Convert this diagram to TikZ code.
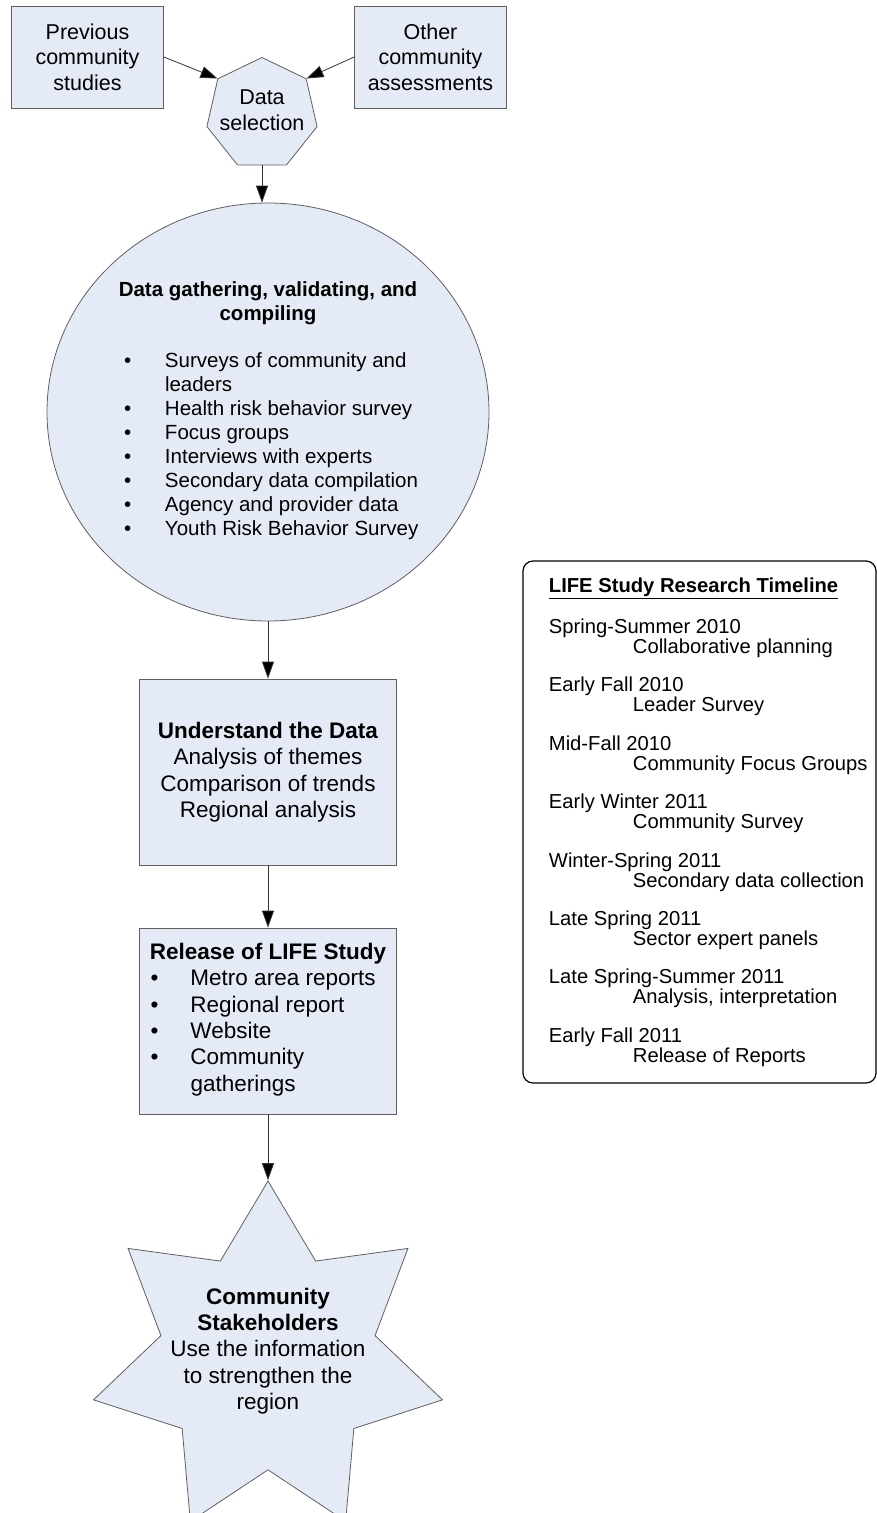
\documentclass[tikz,border=0pt]{standalone}
\usepackage{fontspec}
\setmainfont{Liberation Sans}
\usetikzlibrary{arrows.meta, positioning, shapes.geometric}
\definecolor{boxfill}{RGB}{229,235,246}
\definecolor{boxline}{RGB}{95,95,95}

\begin{document}
\begin{tikzpicture}[x=1pt,y=-1pt,on grid,>={Triangle[width=12pt,length=17pt]}]
    \tikzstyle{source}=[shape=rectangle,draw=boxline,fill=boxfill,line width=0.8pt,minimum width=152pt,minimum height=102pt,align=center,font=\fontsize{21.5}{25.5}\selectfont]
    \tikzstyle{stage}=[shape=rectangle,draw=boxline,fill=boxfill,line width=0.8pt,minimum width=257pt,minimum height=186pt,align=center,font=\fontsize{22.5}{26.4}\selectfont]
    \tikzstyle{blurb}=[align=center,font=\fontsize{22.5}{26.4}\selectfont]
    \useasboundingbox (0,0) rectangle (877,1513);

    \node[source] (Prev) at (87.5,57) {Previous\\community\\studies};
    \node[source, right=343pt of Prev] (Other) {Other\\community\\assessments};
    \node[regular polygon, regular polygon sides=7, draw=boxline, fill=boxfill, line width=0.8pt,
          minimum size=113pt, inner sep=0pt] (Sel) at (262,114) {};
    \node[align=center, font=\fontsize{21.5}{26}\selectfont, above=4pt of Sel] (SelTxt) {Data\\selection};

    \node[ellipse, draw=boxline, fill=boxfill, line width=0.8pt, minimum width=442pt, minimum height=418pt,
          inner sep=0pt, align=center, font=\fontsize{20.5}{24}\selectfont] (Gath) at (268,412) {%
      \textbf{Data gathering, validating, and}\\ \textbf{compiling}\\[23pt]
      \hspace*{9pt}\begin{tabular}[t]{@{}p{41pt}@{}p{256pt}@{}}
        \textbullet & Surveys of community and\\
                    & leaders\\
        \textbullet & Health risk behavior survey\\
        \textbullet & Focus groups\\
        \textbullet & Interviews with experts\\
        \textbullet & Secondary data compilation\\
        \textbullet & Agency and provider data\\
        \textbullet & Youth Risk Behavior Survey
      \end{tabular}};

    \node[stage, below=360pt of Gath] (Und) {\textbf{Understand the Data}\\Analysis of themes\\Comparison of trends\\Regional analysis};
    \node[stage, below=249pt of Und] (Rel) {%
      \textbf{Release of LIFE Study}\\
      \hspace*{4pt}\begin{tabular}[t]{@{}p{40pt}@{}p{199pt}@{}}
        \textbullet & Metro area reports\\
        \textbullet & Regional report\\
        \textbullet & Website\\
        \textbullet & Community\\
                    & gatherings
      \end{tabular}};

    \node[star, star points=7, star point ratio=1.63, minimum size=358pt, inner sep=0pt,
          draw=boxline, fill=boxfill, line width=0.8pt, below=339pt of Rel] (Stake) {};
    \node[blurb, above=9pt of Stake] (StakeTxt) {\textbf{Community}\\\textbf{Stakeholders}\\Use the information\\to strengthen the\\region};

    % timeline box on the right
    \node[draw, rounded corners=10pt, line width=1.2pt, minimum width=353pt, minimum height=522pt] (Time) at (699.5,822) {};
    \node[anchor=north west, align=left, font=\fontsize{20.2}{20}\selectfont] (TimeTxt) at ([xshift=23pt,yshift=-14pt]Time.north west) {%
      \underline{\textbf{LIFE Study Research Timeline}}\\[19pt]
      Spring-Summer 2010\\ \hspace*{84pt}Collaborative planning\\[18.4pt]
      Early Fall 2010\\ \hspace*{84pt}Leader Survey\\[18.4pt]
      Mid-Fall 2010\\ \hspace*{84pt}Community Focus Groups\\[18.4pt]
      Early Winter 2011\\ \hspace*{84pt}Community Survey\\[18.4pt]
      Winter-Spring 2011\\ \hspace*{84pt}Secondary data collection\\[18.4pt]
      Late Spring 2011\\ \hspace*{84pt}Sector expert panels\\[18.4pt]
      Late Spring-Summer 2011\\ \hspace*{84pt}Analysis, interpretation\\[18.4pt]
      Early Fall 2011\\ \hspace*{84pt}Release of Reports};

    \path[draw=black!80, line width=0.8pt, every edge/.append style={->}]
    (Prev.east) edge (Sel.corner 2)
    (Other.west) edge (Sel.corner 7)
    (Sel.south) edge (Sel.south |- Gath.north)
    (Gath.south) edge (Und.north)
    (Und.south) edge (Rel.north)
    (Rel.south) edge (Stake.outer point 1)
    ;
\end{tikzpicture}
\end{document}
